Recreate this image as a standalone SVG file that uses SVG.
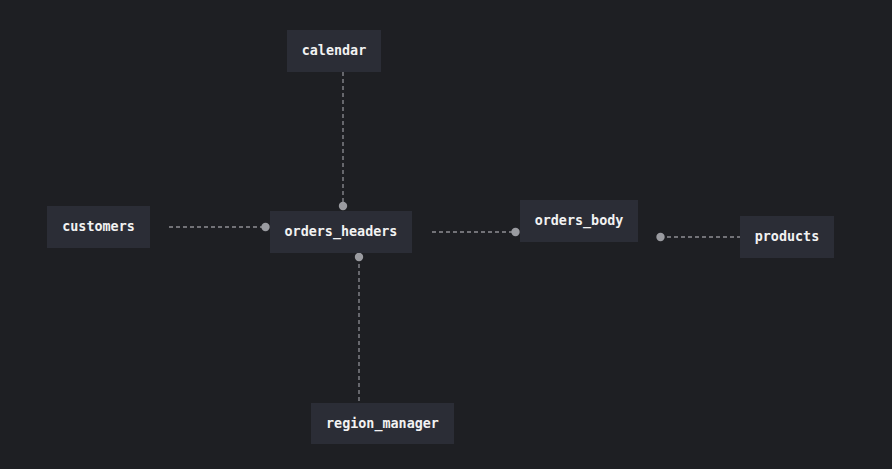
<svg xmlns="http://www.w3.org/2000/svg" width="892" height="469" viewBox="0 0 892 469">
  <style>
    .node rect { fill: #2b2d36; }
    .node text { fill: #f2f2f2; font-family: "DejaVu Sans Mono", "Liberation Mono", monospace; font-size: 13.4px; font-weight: bold; text-anchor: middle; dominant-baseline: central; }
    .edge { stroke: #8e8f94; stroke-width: 1.3; stroke-dasharray: 4 3; fill: none; }
    .dot { fill: #9a9ba0; }
  </style>
  <rect width="892" height="469" fill="#1e1f23"/>

  <g id="connectors">
    <line class="edge" x1="343" y1="72" x2="343" y2="206"/>
    <circle class="dot" cx="343" cy="206" r="4.2"/>
    <line class="edge" x1="169" y1="227" x2="265" y2="227"/>
    <circle class="dot" cx="265.5" cy="227" r="4.2"/>
    <line class="edge" x1="359" y1="257" x2="359" y2="403"/>
    <circle class="dot" cx="359" cy="257" r="4.2"/>
    <line class="edge" x1="432" y1="232" x2="515" y2="232"/>
    <circle class="dot" cx="515.5" cy="232" r="4.2"/>
    <line class="edge" x1="660" y1="237" x2="740" y2="237"/>
    <circle class="dot" cx="660.5" cy="237" r="4.2"/>
  </g>

  <g id="calendar" class="node">
    <rect x="287" y="30" width="94" height="42"/>
    <text x="334" y="50">calendar</text>
  </g>
  <g id="customers" class="node">
    <rect x="47" y="206" width="103" height="42"/>
    <text x="98.5" y="226">customers</text>
  </g>
  <g id="orders_headers" class="node">
    <rect x="270" y="211" width="142" height="42"/>
    <text x="341" y="231">orders_headers</text>
  </g>
  <g id="orders_body" class="node">
    <rect x="520" y="200" width="118" height="42"/>
    <text x="579" y="220">orders_body</text>
  </g>
  <g id="products" class="node">
    <rect x="740" y="216" width="94" height="42"/>
    <text x="787" y="236">products</text>
  </g>
  <g id="region_manager" class="node">
    <rect x="311" y="403" width="143" height="41"/>
    <text x="382.5" y="423">region_manager</text>
  </g>
</svg>
